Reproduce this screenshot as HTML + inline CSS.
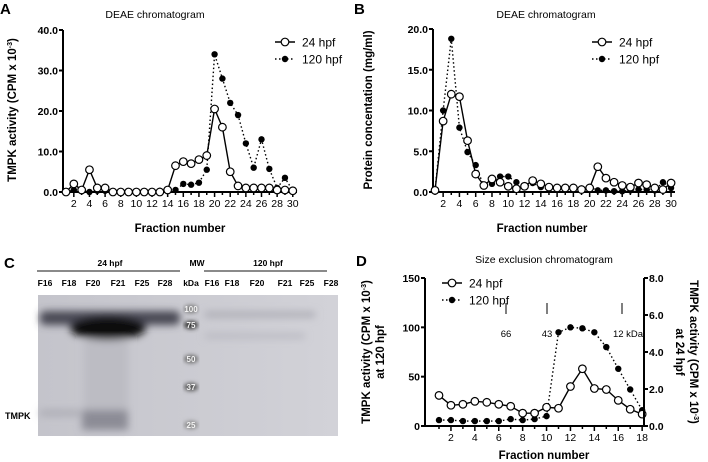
<!DOCTYPE html>
<html><head><meta charset="utf-8"><style>
body{margin:0;background:#fff}
svg{display:block;font-family:"Liberation Sans",Arial,sans-serif}
</style></head><body>
<svg id="s" width="708" height="462" viewBox="0 0 708 462" xmlns="http://www.w3.org/2000/svg">
<defs>
<filter id="b2"><feGaussianBlur stdDeviation="2"/></filter>
<filter id="b4"><feGaussianBlur stdDeviation="4"/></filter>
<linearGradient id="gg" x1="0" y1="0" x2="1" y2="0"><stop offset="0" stop-color="#c4c4cb"/><stop offset="1" stop-color="#d2d2d8"/></linearGradient>
</defs>
<text x="0" y="14" font-size="15" font-weight="bold">A</text>
<text x="354" y="14" font-size="15" font-weight="bold">B</text>
<text x="4" y="268" font-size="15" font-weight="bold">C</text>
<text x="356" y="266" font-size="15" font-weight="bold">D</text>
<text x="155" y="18" font-size="10.5" text-anchor="middle">DEAE chromatogram</text>
<text x="546" y="18" font-size="10.5" text-anchor="middle">DEAE chromatogram</text>
<text x="544" y="263" font-size="10.5" text-anchor="middle">Size exclusion  chromatogram</text>
<text x="180" y="232" font-size="11.5" font-weight="bold" text-anchor="middle">Fraction number</text>
<text x="542" y="232" font-size="11.5" font-weight="bold" text-anchor="middle">Fraction number</text>
<text x="544" y="459" font-size="11.5" font-weight="bold" text-anchor="middle">Fraction number</text>
<text transform="translate(16,110) rotate(-90)" font-size="11.5" font-weight="bold" text-anchor="middle">TMPK activity (CPM x 10<tspan dy="-4" font-size="7">-3</tspan><tspan dy="4">)</tspan></text>
<text transform="translate(372,110) rotate(-90)" font-size="11.5" font-weight="bold" text-anchor="middle">Protein concentation (mg/ml)</text>
<text transform="translate(370,352) rotate(-90)" font-size="11.5" font-weight="bold" text-anchor="middle">TMPK activity (CPM x 10<tspan dy="-4" font-size="7">-3</tspan><tspan dy="4">)</tspan></text>
<text transform="translate(384,352) rotate(-90)" font-size="11.5" font-weight="bold" text-anchor="middle">at 120 hpf</text>
<text transform="translate(690,352) rotate(90)" font-size="11.5" font-weight="bold" text-anchor="middle">TMPK activity (CPM x 10<tspan dy="-4" font-size="7">-3</tspan><tspan dy="4">)</tspan></text>
<text transform="translate(676,352) rotate(90)" font-size="11.5" font-weight="bold" text-anchor="middle">at 24 hpf</text>
<g stroke="#000" stroke-width="1"><line x1="506" y1="303" x2="506" y2="314"/><line x1="547" y1="303" x2="547" y2="314"/><line x1="622" y1="303" x2="622" y2="314"/></g>
<g font-size="9.5" text-anchor="middle"><text x="506" y="337">66</text><text x="547" y="337">43</text><text x="628" y="337">12 kDa</text></g>
<g font-size="8.5" font-weight="bold" text-anchor="middle">
<text x="110" y="266">24  hpf</text><text x="197" y="266">MW</text><text x="268" y="266">120 hpf</text>
<text x="45" y="286">F16</text><text x="69" y="286">F18</text><text x="93" y="286">F20</text><text x="118" y="286">F21</text><text x="142" y="286">F25</text><text x="165" y="286">F28</text><text x="191" y="286">kDa</text>
<text x="212" y="286">F16</text><text x="232" y="286">F18</text><text x="257" y="286">F20</text><text x="285" y="286">F21</text><text x="307" y="286">F25</text><text x="331" y="286">F28</text>
</g>
<line x1="37" y1="271" x2="180" y2="271" stroke="#444" stroke-width="1.2"/>
<line x1="204" y1="271" x2="327" y2="271" stroke="#444" stroke-width="1.2"/>
<text x="5" y="419" font-size="9" font-weight="bold">TMPK</text>
<rect x="38" y="295" width="300" height="141" fill="url(#gg)"/>
<g filter="url(#b4)">
<rect x="40" y="311" width="140" height="14" rx="5" fill="#4a4a55"/>
<ellipse cx="108" cy="328" rx="38" ry="12" fill="#0c0c10"/>
<ellipse cx="93" cy="358" rx="7" ry="5" fill="#8a8a92"/>
<ellipse cx="118" cy="358" rx="7" ry="5" fill="#9a9aa2"/>
<rect x="82" y="410" width="46" height="20" fill="#8c8c96"/>
<rect x="40" y="410" width="40" height="6" fill="#acacb4"/>
<rect x="205" y="312" width="110" height="5" fill="#a8a8b0"/>
<rect x="205" y="334" width="100" height="4" fill="#b4b4bc"/>
<rect x="84" y="340" width="44" height="70" fill="#bcbcc3"/>
</g>
<g filter="url(#b2)"><ellipse cx="191" cy="309" rx="7" ry="4" fill="#777"/><ellipse cx="191" cy="325" rx="7" ry="4" fill="#333"/><ellipse cx="191" cy="359" rx="7" ry="4" fill="#666"/><ellipse cx="191" cy="387" rx="7" ry="4" fill="#555"/><ellipse cx="191" cy="425" rx="7" ry="4" fill="#888"/></g>
<g font-size="8" font-weight="bold" fill="#f4f4f4" text-anchor="middle"><text x="191" y="312">100</text><text x="191" y="328">75</text><text x="191" y="362">50</text><text x="191" y="390">37</text><text x="191" y="428">25</text></g>
<g id="plots"></g>
</svg>
<script>
const g=document.getElementById('plots');let h='';
function panel(o){
 const X=f=>o.x1+(f-1)*o.dx, Y=v=>o.y0-(v/o.ymax)*(o.y0-o.ytop);
 h+=`<line x1="${o.ax}" y1="${o.y0}" x2="${o.xe}" y2="${o.y0}" stroke="#000" stroke-width="2"/>`;
 h+=`<line x1="${o.ax}" y1="${o.y0}" x2="${o.ax}" y2="${o.ytop}" stroke="#000" stroke-width="2"/>`;
 o.yt.forEach(t=>{const y=Y(t[0]);h+=`<line x1="${o.ax-4}" y1="${y}" x2="${o.ax}" y2="${y}" stroke="#000" stroke-width="2"/><text x="${o.ax-5}" y="${y+4}" font-size="10.5" font-weight="bold" text-anchor="end">${t[1]}</text>`;});
 for(let f=1;f<=o.n;f++){const x=X(f);h+=`<line x1="${x}" y1="${o.y0}" x2="${x}" y2="${o.y0+(f%2?3:5)}" stroke="#000" stroke-width="1.5"/>`;if(f%2==0)h+=`<text x="${x}" y="${o.y0+15}" font-size="10.5" text-anchor="middle">${f}</text>`;}
 const pts=d=>d.map((v,i)=>X(i+1)+','+Y(v)).join(' ');
 h+=`<polyline points="${pts(o.b)}" fill="none" stroke="#000" stroke-width="1.4" stroke-dasharray="1.5,2.5"/>`;
 o.b.forEach((v,i)=>h+=`<circle cx="${X(i+1)}" cy="${Y(v)}" r="3.2" fill="#000"/>`);
 h+=`<polyline points="${pts(o.a)}" fill="none" stroke="#000" stroke-width="1.4"/>`;
 o.a.forEach((v,i)=>h+=`<circle cx="${X(i+1)}" cy="${Y(v)}" r="3.8" fill="#fff" stroke="#000" stroke-width="1.2"/>`);
 const [lx,ly]=o.leg;
 h+=`<line x1="${lx-10}" y1="${ly}" x2="${lx+10}" y2="${ly}" stroke="#000" stroke-width="1.4"/><circle cx="${lx}" cy="${ly}" r="3.8" fill="#fff" stroke="#000" stroke-width="1.2"/><text x="${lx+17}" y="${ly+4.5}" font-size="12">24 hpf</text>`;
 h+=`<line x1="${lx-10}" y1="${ly+17}" x2="${lx+10}" y2="${ly+17}" stroke="#000" stroke-width="1.4" stroke-dasharray="1.5,2.5"/><circle cx="${lx}" cy="${ly+17}" r="3.2" fill="#000"/><text x="${lx+17}" y="${ly+21.5}" font-size="12">120 hpf</text>`;
}
panel({ax:63,xe:297,y0:192,ytop:30,ymax:40,x1:66,dx:7.82,n:30,
 yt:[[0,'0.0'],[10,'10.0'],[20,'20.0'],[30,'30.0'],[40,'40.0']],leg:[285,42],
 a:[0,2,0.5,5.5,1,1,0,0,0,0,0,0,0,0.5,6.5,7.5,7,8,9,20.5,16,5,1.5,1,1,1,1,0.5,0.5,0.3],
 b:[0,0.5,0.3,0,0.3,0.3,0,0,0,0,0,0,0.3,0.3,0.5,2,1.8,2.3,5.5,34,28,22,19,12,6,13,5.7,1,3.5,0.3]});
panel({ax:433,xe:675,y0:192,ytop:29,ymax:20,x1:435,dx:8.14,n:30,
 yt:[[0,'0.0'],[5,'5.0'],[10,'10.0'],[15,'15.0'],[20,'20.0']],leg:[602,42],
 a:[0.2,8.7,12,11.7,6.3,2.2,0.8,1.6,1.2,0.7,0.4,0.7,1.4,1,0.6,0.5,0.5,0.5,0.3,0.5,3.1,1.7,1.2,0.8,0.6,1.1,0.9,0.5,0.3,1.1],
 b:[0.2,10,18.8,7.9,4.9,3.3,0.7,1,1.9,1.9,1.2,0.6,1.1,0.6,0.4,0.3,0.3,0.3,0.3,0.6,0.2,0.2,0.1,0.1,0.2,0.3,0.3,0.2,1.2,0.5]});
panel({ax:425,xe:644,y0:426,ytop:278,ymax:150,x1:439,dx:11.95,n:18,
 yt:[[0,'0'],[50,'50'],[100,'100'],[150,'150']],leg:[452,283],
 a:[31,21,22,25,24,22,20,13,13,19,18,40,58,38,37,26,17,12],
 b:[6,6,5,5,5,5,7,6,7,10,95,100,99,95,80,58,37,16]});
h+=`<line x1="644" y1="426" x2="644" y2="278" stroke="#000" stroke-width="2"/>`;
[0,2,4,6,8].forEach(v=>{const y=426-v/8*148;h+=`<line x1="644" y1="${y}" x2="648" y2="${y}" stroke="#000" stroke-width="2"/><text x="649" y="${y+4}" font-size="10.5" font-weight="bold">${v.toFixed(1)}</text>`;});
g.innerHTML=h;
</script>
</body></html>
